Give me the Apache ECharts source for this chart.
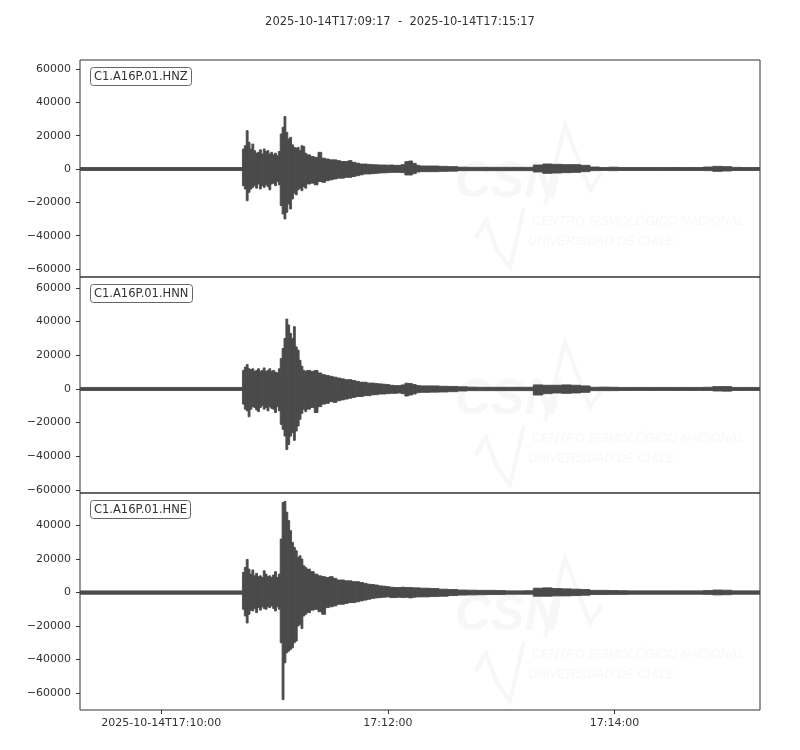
<!DOCTYPE html>
<html>
<head>
<meta charset="utf-8">
<script src="https://cdn.jsdelivr.net/npm/echarts@6/dist/echarts.min.js"></script>
<style>
html,body{margin:0;padding:0;background:#fff;}
#chart{width:800px;height:750px;}
</style>
</head>
<body>
<div id="chart"></div>
<script>
// Time window: seconds since 2025-10-14T17:09:17 (UTC)
const startLabel = '2025-10-14T17:09:17';
const endLabel = '2025-10-14T17:15:17';
const windowSeconds = 360;
const xTickSeconds = [43, 163, 283];
const xTickLabels = ['2025-10-14T17:10:00', '17:12:00', '17:14:00'];

const channels = ['C1.A16P.01.HNZ', 'C1.A16P.01.HNN', 'C1.A16P.01.HNE'];

// Bin start times (s); each bin ends at the next start (last one at windowSeconds)
const binStart = [0,
  86,87,88,89,90,91,92,93,94,95,96,97,98,99,100,101,102,103,104,105,106,107,108,109,110,111,112,113,114,115,116,117,118,119,
  120,122,124,126,128,130,132,134,136,138,140,142,144,146,148,150,152,154,156,158,160,162,164,166,168,170,172,174,176,178,
  180,185,190,195,200,205,210,215,220,225,230,235,240,245,250,255,260,265,270,275,280,285,290,295,300,305,310,315,320,325,330,335,340,345,350,355];

// Envelope (max / min counts) per bin
const hnzMax = [900,
  12000,14000,23000,16000,12000,15000,11000,9500,10000,11500,9000,12000,10500,11000,9000,10000,8500,9500,8000,10500,21000,25000,31500,22000,18000,19000,14500,13000,12500,13000,11000,14000,13500,9500,
  8500,7500,7000,10000,6500,6000,5500,5500,5000,4500,4500,5000,4000,3500,3000,3000,2800,2600,2500,2400,2400,2300,2400,2200,2200,2600,4400,4800,3400,2200,
  1800,1800,1600,1400,1100,1000,1000,1000,1000,1000,1000,1000,2400,3000,2800,2600,2600,2200,1200,900,1100,900,900,900,900,900,900,900,900,900,1200,1600,1400,1000,900,900];
const hnzMin = [-900,
  -10000,-12000,-19000,-14000,-12000,-11000,-10000,-11500,-9000,-12000,-10000,-11000,-9500,-10500,-12500,-9000,-8500,-10000,-7500,-9500,-22000,-27000,-30000,-26000,-21000,-24000,-18000,-14500,-15500,-12500,-11500,-13000,-10500,-11500,
  -9000,-8500,-9500,-7500,-8000,-7000,-6500,-6000,-5500,-5500,-5000,-5000,-4500,-4000,-3500,-3000,-3000,-2800,-2600,-2400,-2300,-2200,-2000,-2000,-2000,-2200,-3600,-3600,-2800,-1800,
  -1600,-1600,-1400,-1300,-1000,-1000,-1000,-1000,-1000,-1000,-1000,-1000,-1800,-2600,-2400,-2200,-2000,-1600,-1000,-900,-1000,-900,-900,-900,-900,-900,-900,-900,-900,-900,-1000,-1400,-1200,-900,-900,-900];

const hnnMax = [900,
  11000,13000,14500,12000,11500,12000,10500,11000,12000,10500,11000,12500,10500,11000,12000,10500,11000,10000,9500,12000,18000,24000,30000,41500,38000,33000,30000,37000,25000,23000,17000,13500,11000,10500,
  11000,10500,11000,9500,8500,8000,7500,7000,6500,6000,5500,5500,5000,4500,4000,4000,3500,3500,3200,3000,2800,2600,2200,2000,2000,2400,3400,3200,2600,2000,
  1800,1800,1600,1500,1300,1100,1000,1000,1000,1000,1000,1000,2400,2200,2200,2400,2200,1800,1000,1100,1000,900,900,900,900,900,900,900,900,900,1000,1400,1400,900,900,900];
const hnnMin = [-900,
  -9000,-12000,-13000,-16500,-12000,-10500,-11000,-12500,-13500,-11000,-10000,-12000,-11000,-13000,-10500,-11500,-12000,-14000,-10500,-13000,-21000,-24000,-28000,-36000,-33000,-28000,-26000,-30500,-25000,-22000,-18000,-14500,-12000,-13500,
  -12000,-11000,-14000,-10500,-9000,-8500,-7500,-8000,-7000,-6500,-6000,-5500,-5000,-4500,-4500,-4000,-4000,-3500,-3400,-3000,-3000,-2800,-2600,-2600,-2400,-2800,-4200,-3600,-3000,-2200,
  -2000,-1900,-1800,-1600,-1200,-1000,-1000,-1000,-1000,-1000,-1000,-1000,-3600,-2800,-2400,-2600,-2400,-2000,-1000,-1000,-1000,-900,-900,-900,-900,-900,-900,-900,-900,-900,-900,-1200,-1300,-900,-900,-900];

const hneMax = [1000,
  12000,15000,19800,14000,11000,13500,10000,11500,9500,10000,9000,13000,11000,9500,10000,9000,10500,12500,9000,11000,32000,53800,54500,48000,43000,37000,30000,27000,25000,21000,22000,20000,16000,15000,
  14000,12500,11000,10000,9500,9000,9500,8500,7500,7500,7000,7000,6500,6500,6000,5500,5000,4800,4500,4000,3800,3500,3200,3000,3000,3200,3000,3000,2800,2800,
  2600,2400,2000,1800,1500,1400,1300,1300,1200,1000,1000,1100,2600,2800,2400,2200,2000,1800,1300,1300,1200,1100,1000,1000,1000,1000,1000,1000,1000,1000,1200,1500,1400,1000,1000,1000];
const hneMin = [-1000,
  -10000,-14000,-18200,-13000,-10500,-11000,-9500,-12000,-9000,-10500,-8500,-9500,-10000,-8500,-9000,-8000,-9500,-11000,-8500,-10000,-30000,-64000,-42000,-36000,-35000,-34000,-33000,-30000,-29000,-20000,-19000,-21500,-14000,-13000,
  -12000,-10500,-10000,-11500,-13000,-9000,-8500,-8000,-7000,-7000,-6500,-6000,-6000,-5500,-5000,-4500,-4000,-3500,-3200,-3000,-2800,-2600,-3000,-3000,-2800,-3000,-2800,-3200,-2800,-2600,
  -2600,-2400,-2200,-1800,-1500,-1400,-1300,-1200,-1200,-1000,-1000,-1000,-2200,-2200,-2000,-2000,-1800,-1600,-1200,-1200,-1100,-1100,-1000,-1000,-1000,-1000,-1000,-1000,-1000,-1000,-1100,-1400,-1300,-1000,-1000,-1000];

// y-axis extents and tick labels per panel
const yMins = [-64800, -61800, -70200];
const yMaxs = [65400, 66500, 59500];
const yTicks = [
  [-60000, -40000, -20000, 0, 20000, 40000, 60000],
  [-60000, -40000, -20000, 0, 20000, 40000, 60000],
  [-60000, -40000, -20000, 0, 20000, 40000]
];

const envelopes = [[hnzMax, hnzMin], [hnnMax, hnnMin], [hneMax, hneMin]];
envelopes.forEach(function (e) {
  if (e[0].length !== binStart.length || e[1].length !== binStart.length) {
    throw new Error('length mismatch ' + e[0].length + ' ' + e[1].length + ' vs ' + binStart.length);
  }
});

const FONT = 'DejaVu Sans';
const TXT = '#333';
const WAVE = '#4a4a4a';
const WM = '#f7f7f7';
const panelTop = [60, 277, 493];
const panelH = [217, 216, 217];

function rows(maxArr, minArr) {
  return binStart.map(function (t0, i) {
    const t1 = i + 1 < binStart.length ? binStart[i + 1] : windowSeconds;
    return [t0, t1, maxArr[i], minArr[i]];
  });
}

function fmtY(v) {
  return String(v).replace('-', '\u2212');
}

const grids = [], xAxes = [], yAxes = [], series = [], titles = [], graphics = [];

titles.push({
  text: startLabel + '  -  ' + endLabel,
  left: 'center', top: 11,
  textStyle: { fontFamily: FONT, fontSize: 11.5, fontWeight: 'normal', color: TXT }
});

for (let p = 0; p < 3; p++) {
  grids.push({
    left: 80, width: 680, top: panelTop[p], height: panelH[p],
    show: true, borderColor: '#333', borderWidth: 1, backgroundColor: 'transparent'
  });
  const last = p === 2;
  xAxes.push({
    type: 'value', gridIndex: p, min: 0, max: windowSeconds,
    axisLine: { show: false, onZero: false },
    splitLine: { show: false },
    axisTick: { show: last, length: 4, lineStyle: { color: '#333' }, customValues: xTickSeconds },
    axisLabel: {
      show: last, customValues: xTickSeconds, margin: 8,
      fontFamily: FONT, fontSize: 11, color: TXT,
      formatter: function (v) { return xTickLabels[xTickSeconds.indexOf(Math.round(v))] || ''; }
    }
  });
  yAxes.push({
    type: 'value', gridIndex: p, min: yMins[p], max: yMaxs[p],
    axisLine: { show: false },
    splitLine: { show: false },
    axisTick: { show: true, length: 4, lineStyle: { color: '#333' }, customValues: yTicks[p] },
    axisLabel: {
      customValues: yTicks[p], margin: 9,
      fontFamily: FONT, fontSize: 11, color: TXT,
      formatter: fmtY
    }
  });
  series.push({
    type: 'custom', xAxisIndex: p, yAxisIndex: p, clip: true, z: 3,
    encode: { x: [0, 1], y: [2, 3] },
    data: rows(envelopes[p][0], envelopes[p][1]),
    renderItem: function (params, api) {
      const a = api.coord([api.value(0), api.value(2)]);
      const b = api.coord([api.value(1), api.value(3)]);
      return {
        type: 'rect',
        shape: { x: a[0], y: a[1], width: b[0] - a[0], height: Math.max(b[1] - a[1], 1) },
        style: { fill: WAVE, stroke: WAVE, lineWidth: 0.9 }
      };
    }
  });
  titles.push({
    text: channels[p],
    left: 90, top: panelTop[p] + 7,
    padding: [4, 4, 3, 4],
    borderColor: '#666', borderWidth: 1, borderRadius: 3,
    backgroundColor: '#fff',
    textStyle: { fontFamily: FONT, fontSize: 11.5, fontWeight: 'normal', color: TXT }
  });
  // faint CSN watermark
  const dy = panelTop[p] - 60;
  graphics.push(
    { type: 'text', z: 0, x: 455, y: 158 + dy,
      style: { text: 'CSN', fontFamily: 'Liberation Sans', fontWeight: 'bold', fontStyle: 'italic', fontSize: 50, fill: WM } },
    { type: 'polyline', z: 0, shape: { points: [[545, 205 + dy], [565, 125 + dy], [590, 190 + dy], [602, 172 + dy]] },
      style: { stroke: WM, lineWidth: 4, fill: null } },
    { type: 'polyline', z: 0, shape: { points: [[476, 238 + dy], [486, 220 + dy], [497, 250 + dy], [510, 268 + dy], [524, 208 + dy]] },
      style: { stroke: WM, lineWidth: 4, fill: null } },
    { type: 'text', z: 0, x: 532, y: 215 + dy,
      style: { text: 'CENTRO SISMOLÓGICO NACIONAL', fontFamily: 'Liberation Sans', fontStyle: 'italic', fontSize: 12.5, fill: WM } },
    { type: 'text', z: 0, x: 528, y: 235 + dy,
      style: { text: 'UNIVERSIDAD DE CHILE', fontFamily: 'Liberation Sans', fontStyle: 'italic', fontSize: 12.5, fill: WM } }
  );
}

const chart = echarts.init(document.getElementById('chart'), null, { renderer: 'canvas' });
chart.setOption({
  animation: false,
  backgroundColor: '#fff',
  title: titles,
  grid: grids,
  xAxis: xAxes,
  yAxis: yAxes,
  graphic: graphics,
  series: series
});
</script>
</body>
</html>
